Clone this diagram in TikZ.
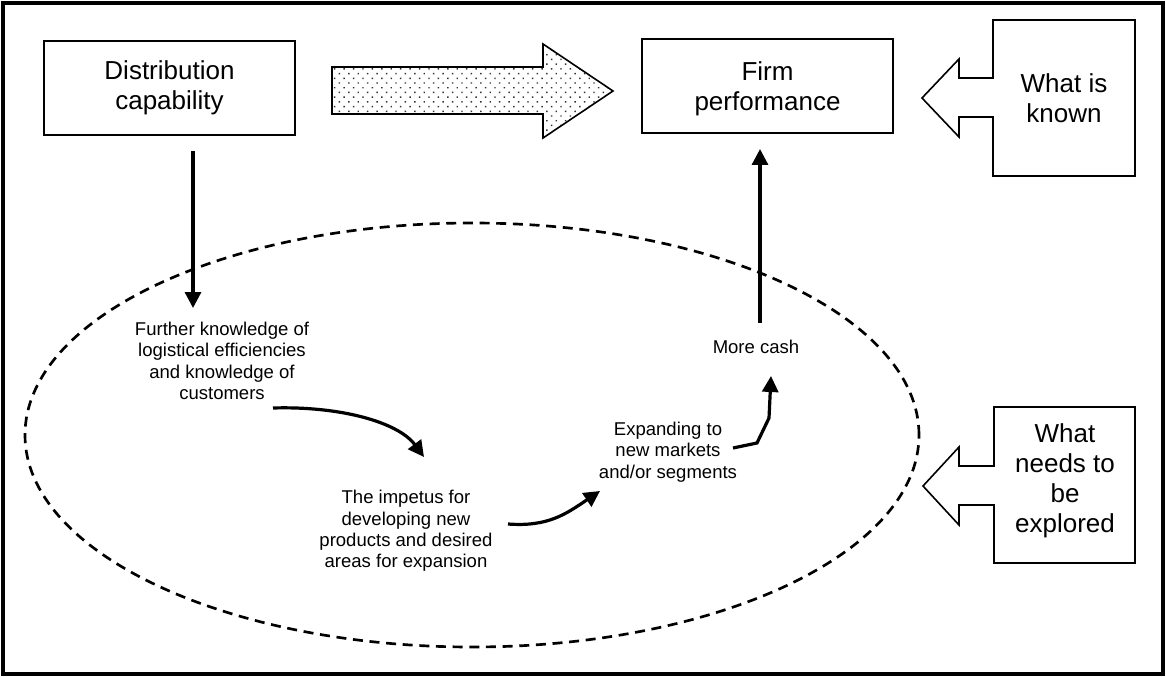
\documentclass[tikz,border=0pt]{standalone}
\usepackage{fontspec}
\setmainfont{Liberation Sans}
\usetikzlibrary{arrows.meta,patterns.meta}

\tikzset{
  bigtext/.style={font=\fontsize{19.5pt}{22.5pt}\selectfont, align=center, inner sep=0pt},
  smalltext/.style={font=\fontsize{13.9pt}{16.1pt}\selectfont, align=center, inner sep=0pt},
  mainbox/.style={draw, line width=1.6pt, minimum width=188.25pt, minimum height=70.5pt, bigtext},
  callout/.style={draw, line width=1.2pt, line join=miter},
  flow/.style={line width=2.4pt, -{Triangle[length=12pt,width=12pt]}},
  region/.style={line width=2pt, dash pattern=on 7.5pt off 5pt}
}

\begin{document}
\begin{tikzpicture}[x=0.75pt, y=-0.75pt]
  \useasboundingbox (0,0) rectangle (1166,677);
  % outer frame
  \draw[line width=2.4pt] (3,3) rectangle (1163,674);

  % main boxes
  \node[mainbox] (dist) at (169.5,88) {Distribution\\capability};
  \node[mainbox, text depth=0pt] (firm) at (767.5,86) {Firm\\performance};

  % dotted block arrow between the boxes
  \draw[line width=1.2pt, pattern={Dots[distance=5pt, angle=45, radius=0.75pt]}, pattern color=black!80]
    (332,67) -- (543,67) -- (543,44) -- (613,91) -- (543,138) -- (543,114) -- (332,114) -- cycle;

  % "What is known" callout
  \draw[callout] (993,20) -- (1135,20) -- (1135,176) -- (993,176) -- (993,117) -- (959,117)
    -- (959,137) -- (922,98) -- (959,59) -- (959,78) -- (993,78) -- cycle;
  \node[bigtext] (known) at (1064,98) {What is\\known};

  % "What needs to be explored" callout
  \draw[callout] (994,407) -- (1135,407) -- (1135,563) -- (994,563) -- (994,505) -- (959,505)
    -- (959,525) -- (923,486) -- (959,447) -- (959,466) -- (994,466) -- cycle;
  \node[bigtext] (explore) at (1065,481) {What\\needs to\\be\\explored};

  % dashed region
  \draw[region] (472,435) ellipse [x radius=335.25pt, y radius=159pt];

  % texts inside the region
  \node[smalltext] (further) at (222,361) {Further knowledge of\\logistical efficiencies\\and knowledge of\\customers};
  \node[smalltext] (impetus) at (406,531) {The impetus for\\developing new\\products and desired\\areas for expansion};
  \node[smalltext] (expand) at (668,452) {Expanding to\\new markets\\and/or segments};
  \node[smalltext] (cash) at (756,347) {More cash};

  % connector end points
  \coordinate (distOut) at (193,151);
  \coordinate (furtherIn) at (193,308);
  \coordinate (furtherOut) at (273,408);
  \coordinate (impetusIn) at (424,457);
  \coordinate (impetusOut) at (508,524);
  \coordinate (expandIn) at (600,491);
  \coordinate (expandOut) at (733,448);
  \coordinate (cashIn) at (771,376);
  \coordinate (cashOut) at (760,323);
  \coordinate (firmIn) at (760,149);

  % flow arrows
  \draw[flow] (distOut) -- (furtherIn);
  \draw[flow] (furtherOut) .. controls (340,406) and (398,422) .. (impetusIn);
  \draw[flow] (impetusOut) .. controls (548,527) and (566,514) .. (expandIn);
  \draw[flow] (expandOut) -- (757,443) -- (769,418) -- (cashIn);
  \draw[flow] (cashOut) -- (firmIn);
\end{tikzpicture}
\end{document}
